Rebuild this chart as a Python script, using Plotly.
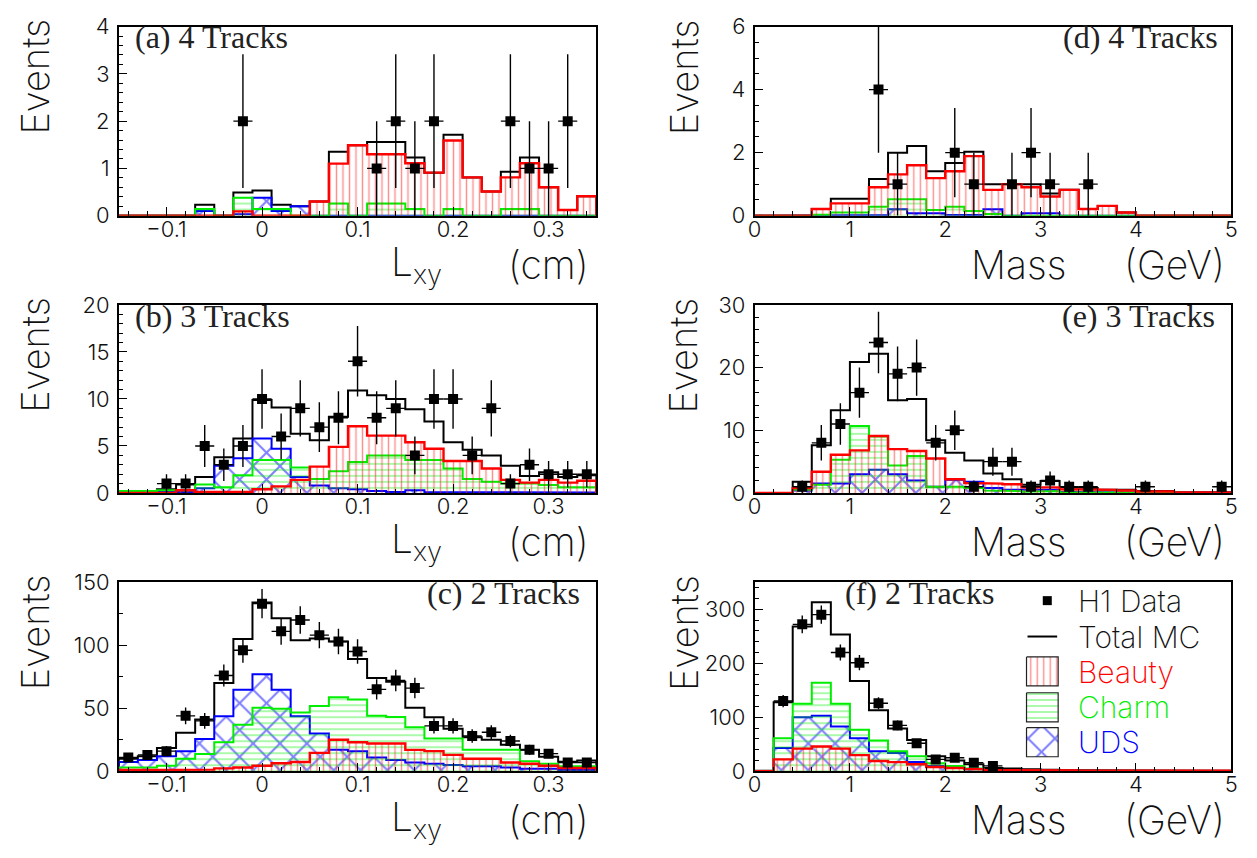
import numpy as np
import plotly.graph_objects as go

W, H = 1257, 858

# ---- binning -------------------------------------------------------------
LXY_EDGES = np.round(np.linspace(-0.15, 0.35, 26), 4)   # cm, 0.02 cm bins
MASS_EDGES = np.round(np.linspace(0.0, 5.0, 26), 4)     # GeV, 0.2 GeV bins

# ---- (a) 4 tracks, Lxy ---------------------------------------------------
A_DATA = [0, 0, 0, 0, 0, 0, 2, 0, 0, 0, 0, 0, 0, 1, 2, 1, 2, 0, 0, 0, 2, 1, 1, 2, 0]
A_TOTAL = [0, 0, 0, 0, 0.23, 0, 0.49, 0.53, 0.23, 0.20, 0.30, 1.35, 1.49, 1.56, 1.56,
           1.23, 0.91, 1.71, 0.81, 0.51, 0.93, 1.23, 0.60, 0.12, 0.41]
A_BEAUTY = [0, 0, 0, 0, 0, 0, 0.09, 0, 0, 0, 0.30, 1.10, 1.49, 1.30, 1.30,
            1.11, 0.91, 1.59, 0.81, 0.51, 0.81, 1.11, 0.60, 0.12, 0.41]
A_CHARM = [0, 0, 0, 0, 0.14, 0, 0.38, 0.14, 0.14, 0, 0, 0.26, 0, 0.26, 0.26,
           0.14, 0, 0.14, 0, 0, 0.14, 0.14, 0, 0, 0]
A_UDS = [0, 0, 0, 0, 0.10, 0, 0.03, 0.38, 0.10, 0.20, 0, 0, 0, 0.01, 0.01,
         0.01, 0, 0, 0, 0, 0.01, 0.01, 0, 0, 0]

# ---- (b) 3 tracks, Lxy ---------------------------------------------------
B_DATA = [0, 0, 1, 1, 5, 3, 5, 10, 6, 9, 7, 8, 14, 8, 9, 4, 10, 10, 4, 9, 1, 3, 2, 2, 2]
B_TOTAL = [0.2, 0.2, 0.4, 0.9, 1.7, 3.8, 5.8, 9.9, 9.1, 6.3, 5.6, 8.1, 10.9, 10.4, 10.0,
           8.9, 7.6, 5.4, 4.6, 4.0, 2.9, 1.8, 2.2, 1.7, 1.9]
B_BEAUTY = [0, 0, 0, 0.3, 0.1, 0.1, 0.1, 0.4, 0.7, 1.4, 2.8, 4.9, 7.1, 6.1, 6.1,
            5.4, 4.7, 3.4, 3.4, 2.6, 1.4, 1.1, 1.4, 1.1, 1.3]
B_CHARM = [0.2, 0.2, 0.3, 0.3, 0.9, 0.6, 1.9, 3.5, 3.5, 2.7, 1.5, 2.3, 3.3, 4.0, 4.0,
           3.5, 3.5, 2.6, 1.5, 1.2, 1.0, 1.0, 0.86, 0.6, 0.6]
B_UDS = [0.1, 0, 0.1, 0.1, 0.5, 2.9, 3.7, 5.8, 4.7, 1.7, 0.8, 0.5, 0.4, 0.2, 0.1,
         0.3, 0.1, 0.1, 0.1, 0.1, 0.1, 0.05, 0.05, 0.05, 0.05]

# ---- (c) 2 tracks, Lxy ---------------------------------------------------
C_DATA = [11, 13, 16, 44, 40, 76, 96, 133, 111, 120, 108, 103, 95, 65, 72,
          66, 36, 36, 28, 31, 24, 17, 14, 7, 7]
C_TOTAL = [10, 12, 18.5, 30.5, 41, 70, 105, 134, 121.5, 104, 105.4, 103, 89, 74, 71,
           50.5, 42.8, 33.8, 27, 25, 21, 17, 11.5, 7.5, 8.5]
C_BEAUTY = [1, 1, 1.3, 1.3, 1.3, 2.3, 3, 4.4, 6.4, 7.4, 14.6, 25, 23, 22, 22,
            17, 16, 13, 10, 10, 7, 6, 4.4, 2.6, 2.6]
C_CHARM = [3, 3, 4.4, 10, 13.8, 23, 37, 50.5, 49.7, 46.7, 51.8, 58.7, 57, 44, 43,
           35, 26, 26, 17, 17, 17, 8, 6, 4, 4]
C_UDS = [7.4, 9, 12, 16, 25.6, 43.6, 64.6, 77, 64.6, 43.6, 30, 17, 16, 11, 9,
         7, 6, 5, 4, 4, 3, 2, 2, 1, 1]

# ---- (d) 4 tracks, mass --------------------------------------------------
D_DATA = [0, 0, 0, 0, 0, 0, 4, 1, 0, 0, 2, 1, 0, 1, 2, 1, 0, 1, 0, 0, 0, 0, 0, 0, 0]
D_TOTAL = [0, 0, 0, 0.21, 0.54, 0.54, 1.16, 2.0, 2.21, 1.41, 1.67, 2.03, 1.0, 1.0, 1.0,
           0.7, 0.82, 0.21, 0.31, 0.1, 0, 0, 0, 0, 0]
D_BEAUTY = [0, 0, 0, 0.21, 0.39, 0.39, 0.9, 1.31, 1.6, 1.19, 1.41, 1.89, 0.82, 1.0, 0.9,
            0.61, 0.82, 0.21, 0.31, 0.1, 0, 0, 0, 0, 0]
D_CHARM = [0, 0, 0, 0.03, 0.1, 0.1, 0.28, 0.52, 0.52, 0.18, 0.28, 0.15, 0.05, 0, 0,
           0, 0, 0, 0, 0, 0, 0, 0, 0, 0]
D_UDS = [0, 0, 0, 0, 0.02, 0.02, 0.02, 0.2, 0.08, 0.08, 0.02, 0.02, 0.2, 0, 0.08,
         0.08, 0, 0, 0, 0, 0, 0, 0, 0, 0]

# ---- (e) 3 tracks, mass --------------------------------------------------
E_DATA = [0, 0, 1, 8, 11, 16, 24, 19, 20, 8, 10, 1, 5, 5, 1, 2, 1, 1, 0, 0, 1, 0, 0, 0, 1]
E_TOTAL = [0, 0, 1.8, 7.6, 13.2, 20.9, 22.2, 14.8, 15.0, 8.4, 6.4, 5.2, 3.1, 2.2, 1.3,
           1.9, 0.9, 0.8, 0.5, 0.5, 0.3, 0.3, 0.1, 0.1, 0.1]
E_BEAUTY = [0, 0, 0.8, 3.4, 6.1, 6.8, 9.1, 7.0, 6.7, 5.5, 2.2, 1.6, 1.5, 1.4, 0.9,
            0.9, 0.6, 0.5, 0.5, 0.4, 0.25, 0.25, 0.1, 0.1, 0.1]
E_CHARM = [0, 0, 0.5, 1.3, 5.3, 10.7, 9.0, 4.4, 5.9, 1.0, 1.0, 0.8, 0.4, 0.3, 0.2,
           0.3, 0.1, 0.1, 0.1, 0.05, 0.05, 0.05, 0, 0, 0]
E_UDS = [0, 0, 0.4, 1.5, 1.5, 3.0, 3.7, 3.0, 2.0, 1.0, 2.1, 1.8, 0.8, 0.5, 0.4,
         0.5, 0.2, 0.2, 0.1, 0.1, 0.05, 0.05, 0.05, 0.05, 0.05]

# ---- (f) 2 tracks, mass --------------------------------------------------
F_DATA = [0, 130, 272, 290, 220, 201, 126, 85, 52, 22, 25, 16, 10, 0, 0,
          0, 0, 0, 0, 0, 0, 0, 0, 0, 0]
F_TOTAL = [1, 128, 268, 313, 253, 167, 113, 79, 58, 28, 20, 13, 6, 5, 4,
           3, 2, 2, 1, 1, 1, 1, 1, 1, 1]
F_BEAUTY = [0, 22, 42, 46, 42, 30, 19, 17, 13, 8, 6, 4, 2.5, 2, 2,
            1.5, 1.5, 1, 1, 1, 1, 1, 1, 1, 1]
F_CHARM = [0, 61, 125, 164, 125, 77, 57, 37, 28, 15, 10, 5, 2, 2, 1,
           1, 0.5, 0.5, 0.5, 0, 0, 0, 0, 0, 0]
F_UDS = [0, 43, 100, 103, 83, 61, 37, 34, 17, 10, 7, 4, 2, 1, 1,
         1, 0.5, 0.5, 0, 0, 0, 0, 0, 0, 0]

# ---- style ---------------------------------------------------------------
RED, GREEN, BLUE = "#ff0000", "#00ee00", "#0000ff"
SANS = "Inter"
SERIF = "Liberation Serif"
TICK_FONT = dict(family=SANS, size=22, color="#111111", weight=300)
TITLE_FONT = dict(family=SANS, size=39, color="#111111", weight=200)

PAT_BEAUTY = dict(shape="|", fgcolor="#ff2020", bgcolor="rgba(0,0,0,0)", size=6.5, solidity=0.22)
PAT_CHARM = dict(shape="-", fgcolor="#00f000", bgcolor="rgba(0,0,0,0)", size=6, solidity=0.22)
PAT_UDS = dict(shape="x", fgcolor="#0000ff", bgcolor="rgba(0,0,0,0)", size=19, solidity=0.2)

# plot-area pixel boxes
LEFT_X = (113, 596)
RIGHT_X = (756, 1238)
ROWS_Y = [(14, 209), (301, 495), (587, 782)]


def xdom(px):
    return [px[0] / W, px[1] / W]


def ydom(py):
    return [1 - py[1] / H, 1 - py[0] / H]


PANELS = [
    dict(label="(a) 4 Tracks", edges=LXY_EDGES, data=A_DATA, total=A_TOTAL, beauty=A_BEAUTY,
         charm=A_CHARM, uds=A_UDS, yr=[0, 4], ymaj=1, ymin=0.2, col=0, row=0, lab=("left", 127)),
    dict(label="(d) 4 Tracks", edges=MASS_EDGES, data=D_DATA, total=D_TOTAL, beauty=D_BEAUTY,
         charm=D_CHARM, uds=D_UDS, yr=[0, 6], ymaj=2, ymin=0.5, col=1, row=0, lab=("right", 1227)),
    dict(label="(b) 3 Tracks", edges=LXY_EDGES, data=B_DATA, total=B_TOTAL, beauty=B_BEAUTY,
         charm=B_CHARM, uds=B_UDS, yr=[0, 20], ymaj=5, ymin=1, col=0, row=1, lab=("left", 127)),
    dict(label="(e) 3 Tracks", edges=MASS_EDGES, data=E_DATA, total=E_TOTAL, beauty=E_BEAUTY,
         charm=E_CHARM, uds=E_UDS, yr=[0, 30], ymaj=10, ymin=2, col=1, row=1, lab=("right", 1224)),
    dict(label="(c) 2 Tracks", edges=LXY_EDGES, data=C_DATA, total=C_TOTAL, beauty=C_BEAUTY,
         charm=C_CHARM, uds=C_UDS, yr=[0, 150], ymaj=50, ymin=25, col=0, row=2, lab=("right", 581)),
    dict(label="(f) 2 Tracks", edges=MASS_EDGES, data=F_DATA, total=F_TOTAL, beauty=F_BEAUTY,
         charm=F_CHARM, uds=F_UDS, yr=[0, 350], ymaj=100, ymin=20, col=1, row=2, lab=("left", 845)),
]


def step_path(edges, vals):
    xs, ys = [edges[0]], [0.0]
    for i, v in enumerate(vals):
        xs += [edges[i], edges[i + 1]]
        ys += [v, v]
    xs.append(edges[-1])
    ys.append(0.0)
    return xs, ys


def hist_trace(edges, vals, color, width, pattern, xa, ya):
    xs, ys = step_path(edges, vals)
    kw = dict(x=xs, y=ys, mode="lines", line=dict(color=color, width=width),
              xaxis=xa, yaxis=ya, showlegend=False, hoverinfo="skip")
    if pattern is not None:
        kw.update(fill="tozeroy", fillcolor=pattern["fgcolor"], fillpattern=pattern)
    return go.Scatter(**kw)


fig = go.Figure()
annotations = []

for i, p in enumerate(PANELS, start=1):
    xa, ya = f"x{i}", f"y{i}"
    edges = np.asarray(p["edges"])
    centers = 0.5 * (edges[:-1] + edges[1:])
    half = 0.5 * (edges[1] - edges[0])

    fig.add_trace(hist_trace(edges, p["total"], "black", 2, None, xa, ya))
    fig.add_trace(hist_trace(edges, p["uds"], BLUE, 2, PAT_UDS, xa, ya))
    fig.add_trace(hist_trace(edges, p["charm"], GREEN, 2, PAT_CHARM, xa, ya))
    fig.add_trace(hist_trace(edges, p["beauty"], RED, 2.4, PAT_BEAUTY, xa, ya))

    d = np.asarray(p["data"], dtype=float)
    m = d > 0
    fig.add_trace(go.Scatter(
        x=centers[m], y=d[m], mode="markers", xaxis=xa, yaxis=ya,
        marker=dict(symbol="square", size=10, color="black"),
        error_y=dict(type="data", array=np.sqrt(d[m]), width=0, thickness=1.4, color="black"),
        error_x=dict(type="constant", value=half, width=0, thickness=1.4, color="black"),
        showlegend=False, hoverinfo="skip"))

    xpx = LEFT_X if p["col"] == 0 else RIGHT_X
    ypx = ROWS_Y[p["row"]]
    is_lxy = p["col"] == 0
    xkey = "xaxis" if i == 1 else f"xaxis{i}"
    ykey = "yaxis" if i == 1 else f"yaxis{i}"
    fig.layout[xkey] = dict(
        domain=xdom(xpx), anchor=ya, range=[edges[0], edges[-1]],
        tick0=0, dtick=0.1 if is_lxy else 1, ticks="inside", ticklen=9, tickwidth=1,
        tickcolor="black", minor=dict(dtick=0.02 if is_lxy else 0.2, ticks="inside",
                                      ticklen=4.5, tickwidth=1, tickcolor="black"),
        showline=True, linecolor="black", linewidth=1.5, mirror=True,
        showgrid=False, zeroline=False, tickfont=TICK_FONT, ticklabelstandoff=-7)
    fig.layout[ykey] = dict(
        domain=ydom(ypx), anchor=xa, range=p["yr"], tick0=0, dtick=p["ymaj"],
        ticks="inside", ticklen=9, tickwidth=1, tickcolor="black",
        minor=dict(dtick=p["ymin"], ticks="inside", ticklen=4.5, tickwidth=1, tickcolor="black"),
        showline=True, linecolor="black", linewidth=1.5, mirror=True,
        showgrid=False, zeroline=False, tickfont=TICK_FONT, ticklabelstandoff=3)

    # panel label
    anchor, lx = p["lab"]
    annotations.append(dict(text=p["label"], x=lx / W, y=1 - (ypx[0] + 11) / H,
                            xref="paper", yref="paper", xanchor=anchor, yanchor="middle",
                            showarrow=False, font=dict(family=SERIF, size=32, color="#222222")))
    # y title
    ex = 28 if p["col"] == 0 else 684
    annotations.append(dict(text="Events", x=ex / W, y=1 - (ypx[0] - 10) / H, textangle=-90,
                            xref="paper", yref="paper", xanchor="center", yanchor="top",
                            showarrow=False, font=dict(family=SANS, size=38, color="#111111", weight=200)))
    # x title
    ty = 1 - (ypx[1] + 50) / H
    if is_lxy:
        annotations.append(dict(text="L<sub>xy</sub>", x=386 / W, y=ty, xref="paper", yref="paper",
                                xanchor="left", yanchor="middle", showarrow=False, font=TITLE_FONT))
        annotations.append(dict(text="(cm)", x=591 / W, y=ty, xref="paper", yref="paper",
                                xanchor="right", yanchor="middle", showarrow=False, font=TITLE_FONT))
    else:
        annotations.append(dict(text="Mass", x=973 / W, y=ty, xref="paper", yref="paper",
                                xanchor="left", yanchor="middle", showarrow=False, font=TITLE_FONT))
        annotations.append(dict(text="(GeV)", x=1234 / W, y=ty, xref="paper", yref="paper",
                                xanchor="right", yanchor="middle", showarrow=False, font=TITLE_FONT))

# ---- legend (drawn in a pixel-coordinate overlay axis) ----------------------
fig.layout["xaxis7"] = dict(domain=[0, 1], range=[0, W], visible=False, anchor="y7", fixedrange=True)
fig.layout["yaxis7"] = dict(domain=[0, 1], range=[H, 0], visible=False, anchor="x7", fixedrange=True)

fig.add_trace(go.Scatter(x=[1052], y=[606], mode="markers", xaxis="x7", yaxis="y7",
                         marker=dict(symbol="square", size=9, color="black"),
                         showlegend=False, hoverinfo="skip"))
fig.add_trace(go.Scatter(x=[1032, 1062], y=[643, 643], mode="lines", xaxis="x7", yaxis="y7",
                         line=dict(color="black", width=2), showlegend=False, hoverinfo="skip"))
LEGEND_ITEMS = [("Beauty", RED, PAT_BEAUTY, 664), ("Charm", GREEN, PAT_CHARM, 701), ("UDS", BLUE, PAT_UDS, 737)]
for name, col, pat, top in LEGEND_ITEMS:
    fig.add_trace(go.Scatter(x=[1031, 1063, 1063, 1031, 1031], y=[top, top, top + 30, top + 30, top],
                             mode="lines", fill="toself", fillcolor=pat["fgcolor"], fillpattern=pat,
                             line=dict(color="#222222", width=1.2), xaxis="x7", yaxis="y7",
                             showlegend=False, hoverinfo="skip"))

for text, col, yc in [("H1 Data", "#111111", 606), ("Total MC", "#111111", 643),
                      ("Beauty", RED, 680), ("Charm", GREEN, 716), ("UDS", BLUE, 752)]:
    annotations.append(dict(text=text, x=1082 / W, y=1 - yc / H, xref="paper", yref="paper",
                            xanchor="left", yanchor="middle", showarrow=False, borderpad=0,
                            font=dict(family=SANS, size=30, color=col, weight=200)))

fig.update_layout(width=W, height=H, margin=dict(l=0, r=0, t=0, b=0),
                  paper_bgcolor="white", plot_bgcolor="rgba(0,0,0,0)",
                  annotations=annotations, showlegend=False)

fig.write_html("out.html", post_script="document.body.style.margin='0';")
